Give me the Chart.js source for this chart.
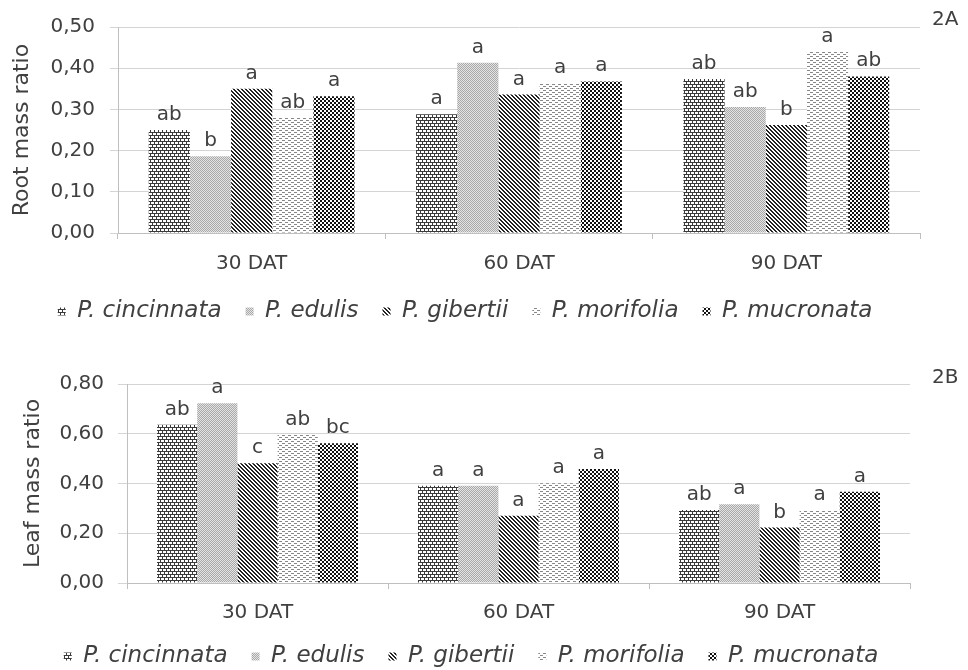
<!DOCTYPE html>
<html>
<head>
<meta charset="utf-8">
<script src="https://cdn.jsdelivr.net/npm/chart.js@4"></script>
<style>
    body { margin: 0; width: 968px; height: 670px; overflow: hidden; background: #fff; position: relative; font-family: 'DejaVu Sans', sans-serif; }
    .box { position: absolute; left: 0; width: 968px; height: 335px; }
    #wrapA { top: 0; }
    #wrapB { top: 343px; }
    .tag { position: absolute; font-size: 20px; color: #404040; line-height: 24px; }
</style>
</head>
<body>
<div class="box" id="wrapA"><canvas id="chartA"></canvas></div>
<div class="box" id="wrapB"><canvas id="chartB"></canvas></div>
<div class="tag" style="left:932px; top:6px;">2A</div>
<div class="tag" style="left:932px; top:364px;">2B</div>
<script>
// --- DATA ---
const categories = ['30 DAT', '60 DAT', '90 DAT'];
const species = ['P. cincinnata', 'P. edulis', 'P. gibertii', 'P. morifolia', 'P. mucronata'];

// Root mass ratio (2A)
const rootCincinnata = [0.250, 0.288, 0.374];
const rootEdulis     = [0.186, 0.413, 0.306];
const rootGibertii   = [0.350, 0.336, 0.262];
const rootMorifolia  = [0.280, 0.364, 0.440];
const rootMucronata  = [0.332, 0.368, 0.380];
const rootLetters = [['ab', 'a', 'ab'], ['b', 'a', 'ab'], ['a', 'a', 'b'], ['ab', 'a', 'a'], ['a', 'a', 'ab']];
const rootTicks = ['0,00', '0,10', '0,20', '0,30', '0,40', '0,50'];

// Leaf mass ratio (2B)
const leafCincinnata = [0.636, 0.391, 0.293];
const leafEdulis     = [0.723, 0.391, 0.317];
const leafGibertii   = [0.481, 0.270, 0.223];
const leafMorifolia  = [0.595, 0.401, 0.293];
const leafMucronata  = [0.562, 0.458, 0.367];
const leafLetters = [['ab', 'a', 'ab'], ['a', 'a', 'a'], ['c', 'a', 'b'], ['ab', 'a', 'a'], ['bc', 'a', 'a']];
const leafTicks = ['0,00', '0,20', '0,40', '0,60', '0,80'];

const textColor = '#404040';
const fontFamily = "'DejaVu Sans', sans-serif";

// --- PATTERNS (Excel style fills) ---
function makePattern(w, h, bg, fg, cells) {
    const c = document.createElement('canvas');
    c.width = w; c.height = h;
    const g = c.getContext('2d');
    g.fillStyle = bg;
    g.fillRect(0, 0, w, h);
    g.fillStyle = fg;
    cells.forEach(([x, y, cw, ch]) => g.fillRect(x, y, cw || 1, ch || 1));
    return g.createPattern(c, 'repeat');
}

function diagonalCells() {
    const cells = [];
    for (let y = 0; y < 4; y++) {
        cells.push([y, y]);
        cells.push([(y + 1) % 4, y]);
    }
    return cells;
}

const fills = [
    makePattern(4, 6, '#fff', '#3a3a3a', [[0, 0, 4, 1], [0, 3, 4, 1], [0, 1, 1, 2], [2, 4, 1, 2]]),
    makePattern(2, 2, '#e4e4e4', '#a8a8a8', [[0, 0], [1, 1]]),
    makePattern(4, 4, '#fff', '#222', diagonalCells()),
    makePattern(6, 4, '#fff', '#888', [[0, 0, 3, 1], [3, 2, 3, 1]]),
    makePattern(4, 4, '#fff', '#111', [[0, 0, 2, 2], [2, 2, 2, 2]])
];

// letters above bars
const lettersPlugin = {
    id: 'letters',
    afterDatasetsDraw(chart, args, opts) {
        const ctx = chart.ctx;
        ctx.save();
        ctx.font = '20px ' + fontFamily;
        ctx.fillStyle = textColor;
        ctx.textAlign = 'center';
        ctx.textBaseline = 'alphabetic';
        chart.data.datasets.forEach((ds, i) => {
            chart.getDatasetMeta(i).data.forEach((bar, j) => {
                ctx.fillText(opts.letters[i][j], bar.x, bar.y - 10);
            });
        });
        ctx.restore();
    }
};

function buildChart(id, values, letters, ticks, maxY, stepY, title, lay) {
    return new Chart(document.getElementById(id), {
        type: 'bar',
        data: {
            labels: categories,
            datasets: values.map((v, i) => ({
                label: species[i],
                data: v,
                backgroundColor: fills[i],
                borderWidth: 0,
                categoryPercentage: 0.77,
                barPercentage: 1.0
            }))
        },
        plugins: [lettersPlugin],
        options: {
            responsive: true,
            maintainAspectRatio: false,
            animation: false,
            layout: { padding: lay.padding },
            plugins: {
                letters: { letters: letters },
                tooltip: { enabled: false },
                legend: {
                    position: 'bottom',
                    labels: {
                        color: textColor,
                        font: { family: fontFamily, size: 23, style: 'italic' },
                        boxWidth: 8,
                        boxHeight: 8,
                        padding: 24
                    }
                }
            },
            scales: {
                x: {
                    afterFit: (s) => { s.height = lay.xHeight; },
                    grid: { drawOnChartArea: false, drawTicks: true, tickLength: 6, offset: true, color: '#bfbfbf' },
                    border: { color: '#bfbfbf' },
                    ticks: { color: textColor, padding: lay.xPad, font: { family: fontFamily, size: 20 } }
                },
                y: {
                    min: 0,
                    max: maxY,
                    afterFit: (s) => { s.width = lay.yWidth; },
                    afterBuildTicks: (s) => {
                        s.ticks = ticks.map((t, i) => ({ value: i * stepY }));
                    },
                    grid: { color: '#d4d4d4', tickLength: lay.yTick },
                    border: { color: '#bfbfbf' },
                    ticks: {
                        color: textColor,
                        padding: lay.yPad,
                        font: { family: fontFamily, size: 20 },
                        callback: (v, i) => ticks[i]
                    },
                    title: {
                        display: true,
                        text: title,
                        color: textColor,
                        font: { family: fontFamily, size: 22 },
                        padding: { top: lay.titlePad, bottom: 0 }
                    }
                }
            }
        }
    });
}

buildChart('chartA',
    [rootCincinnata, rootEdulis, rootGibertii, rootMorifolia, rootMucronata],
    rootLetters, rootTicks, 0.5, 0.1, 'Root mass ratio',
    { padding: { left: 10, right: 48, top: 24, bottom: 2 }, xHeight: 43, xPad: 13, yWidth: 108, yTick: 8, yPad: 15, titlePad: -1 });

buildChart('chartB',
    [leafCincinnata, leafEdulis, leafGibertii, leafMorifolia, leafMucronata],
    leafLetters, leafTicks, 0.8, 0.2, 'Leaf mass ratio',
    { padding: { left: 32, right: 58, top: 41, bottom: 0 }, xHeight: 38, xPad: 12, yWidth: 95, yTick: 9, yPad: 14, titlePad: -12 });
</script>
</body>
</html>
